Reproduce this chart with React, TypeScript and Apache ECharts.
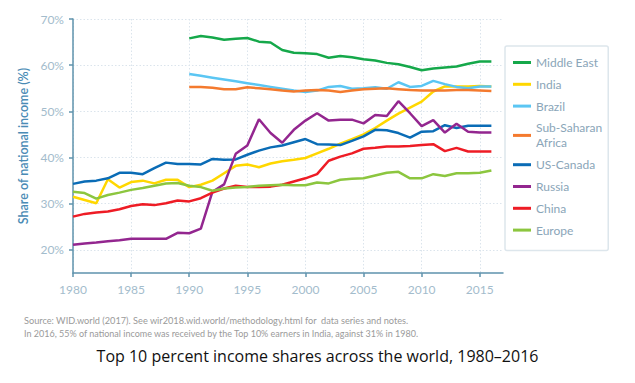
import React, { useEffect, useRef } from "react";
import * as echarts from "echarts";

const years = [
  1980, 1981, 1982, 1983, 1984, 1985, 1986, 1987, 1988, 1989,
  1990, 1991, 1992, 1993, 1994, 1995, 1996, 1997, 1998, 1999,
  2000, 2001, 2002, 2003, 2004, 2005, 2006, 2007, 2008, 2009,
  2010, 2011, 2012, 2013, 2014, 2015, 2016,
];

const N = null;
const middleEast = [
  N, N, N, N, N, N, N, N, N, N,
  65.8, 66.3, 66.0, 65.5, 65.7, 65.9, 65.1, 64.9, 63.3, 62.7,
  62.6, 62.4, 61.6, 62.0, 61.7, 61.3, 61.0, 60.5, 60.2, 59.6,
  58.9, 59.3, 59.5, 59.7, 60.3, 60.8, 60.8,
];
const india = [
  31.5, 30.8, 30.1, 35.3, 33.5, 34.7, 35.0, 34.4, 35.2, 35.2,
  33.6, 34.1, 35.0, 36.6, 38.2, 38.5, 37.9, 38.7, 39.2, 39.5,
  39.9, 40.9, 41.9, 43.0, 44.0, 45.0, 46.4, 48.0, 49.5, 50.8,
  52.1, 54.3, 55.4, 55.4, 55.4, 55.5, 55.4,
];
const brazil = [
  N, N, N, N, N, N, N, N, N, N,
  58.1, 57.7, 57.3, 56.9, 56.5, 56.1, 55.7, 55.3, 54.9, 54.5,
  54.2, 54.5, 55.3, 55.5, 54.9, 55.0, 55.2, 54.9, 56.3, 55.3,
  55.5, 56.6, 55.9, 55.3, 55.0, 55.4, 55.4,
];
const subSaharanAfrica = [
  N, N, N, N, N, N, N, N, N, N,
  55.3, 55.3, 55.1, 54.8, 54.8, 55.2, 55.0, 54.8, 54.5, 54.3,
  54.5, 54.6, 54.5, 54.2, 54.5, 54.8, 54.9, 55.0, 54.8, 54.6,
  54.5, 54.5, 54.5, 54.6, 54.6, 54.5, 54.4,
];
const usCanada = [
  34.3, 34.8, 35.0, 35.5, 36.7, 36.7, 36.4, 37.7, 38.9, 38.6,
  38.6, 38.5, 39.7, 39.5, 39.6, 40.6, 41.5, 42.2, 42.6, 43.3,
  44.0, 42.9, 42.8, 42.7, 43.6, 44.6, 46.0, 45.9, 45.3, 44.3,
  45.6, 45.7, 47.0, 46.4, 46.9, 46.9, 46.9,
];
const russia = [
  21.1, 21.4, 21.6, 21.9, 22.1, 22.4, 22.4, 22.4, 22.4, 23.7,
  23.6, 24.6, 32.6, 34.2, 40.8, 42.6, 48.3, 45.3, 43.2, 46.0,
  48.0, 49.6, 48.0, 48.2, 48.2, 47.4, 49.2, 49.0, 52.2, 49.6,
  46.8, 48.1, 45.4, 47.3, 45.6, 45.4, 45.4,
];
const china = [
  27.2, 27.8, 28.1, 28.3, 28.8, 29.5, 29.9, 29.7, 30.1, 30.7,
  30.5, 31.2, 32.4, 33.3, 33.9, 33.6, 33.6, 33.7, 34.1, 34.8,
  35.5, 36.4, 39.3, 40.2, 40.9, 41.9, 42.1, 42.4, 42.4, 42.5,
  42.7, 42.9, 41.4, 42.1, 41.3, 41.3, 41.3,
];
const europe = [
  32.6, 32.3, 31.1, 31.9, 32.4, 33.0, 33.4, 33.9, 34.4, 34.5,
  33.9, 33.6, 32.8, 33.3, 33.5, 33.6, 33.9, 34.0, 34.1, 34.0,
  34.0, 34.6, 34.4, 35.2, 35.4, 35.5, 36.1, 36.7, 36.9, 35.5,
  35.5, 36.4, 36.0, 36.6, 36.6, 36.7, 37.2,
];

const seriesNames = [
  "Middle East",
  "India",
  "Brazil",
  "Sub-Saharan\nAfrica",
  "US-Canada",
  "Russia",
  "China",
  "Europe",
];
const seriesValues = [middleEast, india, brazil, subSaharanAfrica, usCanada, russia, china, europe];
const seriesColors = ["#15a84a", "#ffd700", "#5bc6f3", "#f47a2e", "#0a6cb6", "#93268f", "#ee1c25", "#8cc63f"];

const xTicks = [1980, 1985, 1990, 1995, 2000, 2005, 2010, 2015];
const yTicks = [20, 30, 40, 50, 60, 70];

const yAxisName = "Share of national income (%)";
const sourceNote = "Source: WID.world (2017). See wir2018.wid.world/methodology.html for  data series and notes.";
const finding = "In 2016, 55% of national income was received by the Top 10% earners in India, against 31% in 1980.";
const title = "Top 10 percent income shares across the world, 1980–2016";

export default function App() {
  const ref = useRef<HTMLDivElement>(null);
  useEffect(() => {
    if (!ref.current) return;
    const chart = echarts.init(ref.current, null, { renderer: "svg" });
    const axisColor = "#5f93ad";
    const labelColor = "#a3bccc";
    const gridColor = "#dbe4ec";
    chart.setOption({
      animation: false,
      backgroundColor: "#ffffff",
      textStyle: { fontFamily: "Lato" },
      grid: { left: 73, right: 132, top: 19, bottom: 110, containLabel: false },
      xAxis: {
        type: "value",
        min: 1980,
        max: 2017,
        axisLine: { show: true, lineStyle: { color: axisColor, width: 1.5 } },
        axisTick: { show: true, length: 4, customValues: xTicks, lineStyle: { color: axisColor, width: 1.5 } },
        axisLabel: {
          customValues: xTicks,
          color: labelColor,
          fontSize: 12,
          fontFamily: "Lato",
          margin: 10,
          formatter: (v: number) => String(v),
        },
        splitLine: { show: true, lineStyle: { color: gridColor, type: [1.5, 2], width: 1 } },
      },
      yAxis: {
        type: "value",
        min: 15,
        max: 70,
        name: yAxisName,
        nameLocation: "middle",
        nameGap: 36,
        nameTextStyle: { color: "#4a8bb5", fontSize: 12.5, fontFamily: "Lato", fontWeight: 600 },
        axisLine: { show: true, lineStyle: { color: axisColor, width: 1.5 } },
        axisTick: { show: true, length: 4, customValues: yTicks, lineStyle: { color: axisColor, width: 1.5 } },
        axisLabel: {
          customValues: yTicks,
          color: labelColor,
          fontSize: 12,
          fontFamily: "Lato",
          margin: 9,
          formatter: (v: number) => v + "%",
        },
        splitLine: { show: true, lineStyle: { color: gridColor, type: [1.5, 2], width: 1 } },
      },
      legend: {
        orient: "vertical",
        left: 505,
        top: 46,
        padding: [9, 6, 13, 8],
        itemGap: 6.8,
        itemWidth: 18,
        itemHeight: 3,
        icon: "rect",
        borderColor: "#dde6ec",
        borderWidth: 1.5,
        borderRadius: 2,
        textStyle: { color: "#8aa5b8", fontSize: 12, fontFamily: "Lato", lineHeight: 15 },
        data: seriesNames,
      },
      graphic: [
        {
          type: "text",
          left: 24,
          top: 316,
          style: { text: sourceNote, fill: "#9a9a9a", font: "9.2px Lato" },
        },
        {
          type: "text",
          left: 24,
          top: 329,
          style: { text: finding, fill: "#9a9a9a", font: "9px Lato" },
        },
        {
          type: "text",
          left: "center",
          top: 348,
          style: { text: title, fill: "#111111", font: "16px 'Open Sans'" },
        },
      ],
      series: seriesNames.map((name, i) => ({
        name,
        type: "line",
        data: years.map((y, j) => [y, seriesValues[i][j]]),
        showSymbol: false,
        symbol: "none",
        connectNulls: false,
        color: seriesColors[i],
        lineStyle: { width: 2.5, color: seriesColors[i] },
      })),
    });
    return () => chart.dispose();
  }, []);
  return <div ref={ref} style={{ width: 635, height: 383, position: "absolute", left: 0, top: 0 }} />;
}
